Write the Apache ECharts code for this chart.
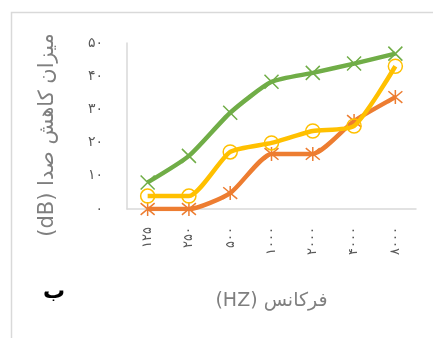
<!DOCTYPE html>
<html>
<head>
<meta charset="utf-8">
<script src="https://cdn.jsdelivr.net/npm/echarts@6/dist/echarts.min.js"></script>
<style>
  html, body { margin: 0; padding: 0; background: #fff; }
  #chart { width: 433px; height: 338px; }
</style>
</head>
<body>
<div id="chart"></div>
<script>
// frequency bands (Persian digits as in the source)
const categories = ['۱۲۵', '۲۵۰', '۵۰۰', '۱۰۰۰', '۲۰۰۰', '۴۰۰۰', '۸۰۰۰'];
const yTickLabels = { 0: '۰', 10: '۱۰', 20: '۲۰', 30: '۳۰', 40: '۴۰', 50: '۵۰' };

// noise reduction (dB)
const greenSeries = [8, 16, 29, 38.3, 41, 43.8, 46.8];
const yellowSeries = [3.9, 3.9, 17.2, 19.9, 23.5, 25, 43];
const orangeSeries = [0, 0, 4.8, 16.6, 16.6, 26.5, 33.7];

const font = 'DejaVu Sans';
const crossPath = 'path://M0,0L10,10M10,0L0,10';
const starPath = 'path://M0,0L10,10M10,0L0,10M5,-1L5,11';

let chart = echarts.init(document.getElementById('chart'));
let option = {
  animation: false,
  textStyle: { fontFamily: font },
  grid: { left: 127, top: 43, right: 17, bottom: 129 },
  graphic: [
    {
      type: 'polyline',
      shape: { points: [[11.5, 338], [11.5, 12.5], [433, 12.5]] },
      style: { stroke: '#d9d9d9', lineWidth: 1.5, fill: null }
    },
    {
      type: 'text',
      x: 54,
      y: 292,
      style: {
        text: 'ب', fontSize: 22, fontWeight: 'bold', fontFamily: font,
        fill: '#000', align: 'center', verticalAlign: 'middle'
      }
    },
    {
      type: 'text',
      x: 48,
      y: 135,
      rotation: Math.PI / 2,
      style: {
        text: '(dB) میزان کاهش صدا', fontSize: 21, fontFamily: font,
        fill: '#7f7f7f', align: 'center', verticalAlign: 'middle'
      }
    }
  ],
  xAxis: {
    type: 'category',
    data: categories,
    boundaryGap: true,
    name: '(HZ) فرکانس',
    nameLocation: 'middle',
    nameGap: 83,
    nameTextStyle: { fontSize: 19, color: '#7f7f7f', fontFamily: font },
    axisLine: { lineStyle: { color: '#d9d9d9', width: 1.5 } },
    axisTick: { show: false },
    axisLabel: { rotate: 90, margin: 18, fontSize: 13, color: '#595959', fontFamily: font }
  },
  yAxis: {
    type: 'value',
    min: 0,
    max: 50,
    interval: 10,
    axisLine: { show: true, lineStyle: { color: '#d9d9d9', width: 1.5 } },
    axisTick: { show: false },
    splitLine: { show: false },
    axisLabel: {
      margin: 24,
      fontSize: 14,
      color: '#595959',
      fontFamily: font,
      formatter: v => yTickLabels[v]
    }
  },
  series: [
    {
      name: 'green',
      type: 'line',
      data: greenSeries,
      smooth: 0.2,
      symbol: crossPath,
      symbolSize: 14,
      lineStyle: { color: '#70ad47', width: 4.5 },
      itemStyle: { color: 'transparent', borderColor: '#70ad47', borderWidth: 1.5 },
      z: 2
    },
    {
      name: 'orange',
      type: 'line',
      data: orangeSeries,
      smooth: 0.2,
      symbol: starPath,
      symbolSize: 14,
      lineStyle: { color: '#ed7d31', width: 4.5 },
      itemStyle: { color: 'transparent', borderColor: '#ed7d31', borderWidth: 1.5 },
      z: 3
    },
    {
      name: 'yellow',
      type: 'line',
      data: yellowSeries,
      smooth: 0.2,
      symbol: 'circle',
      symbolSize: 14,
      lineStyle: { color: '#ffc000', width: 4.5 },
      itemStyle: { color: 'transparent', borderColor: '#ffc000', borderWidth: 1.5 },
      z: 4
    }
  ]
};
option && chart.setOption(option);
</script>
</body>
</html>
